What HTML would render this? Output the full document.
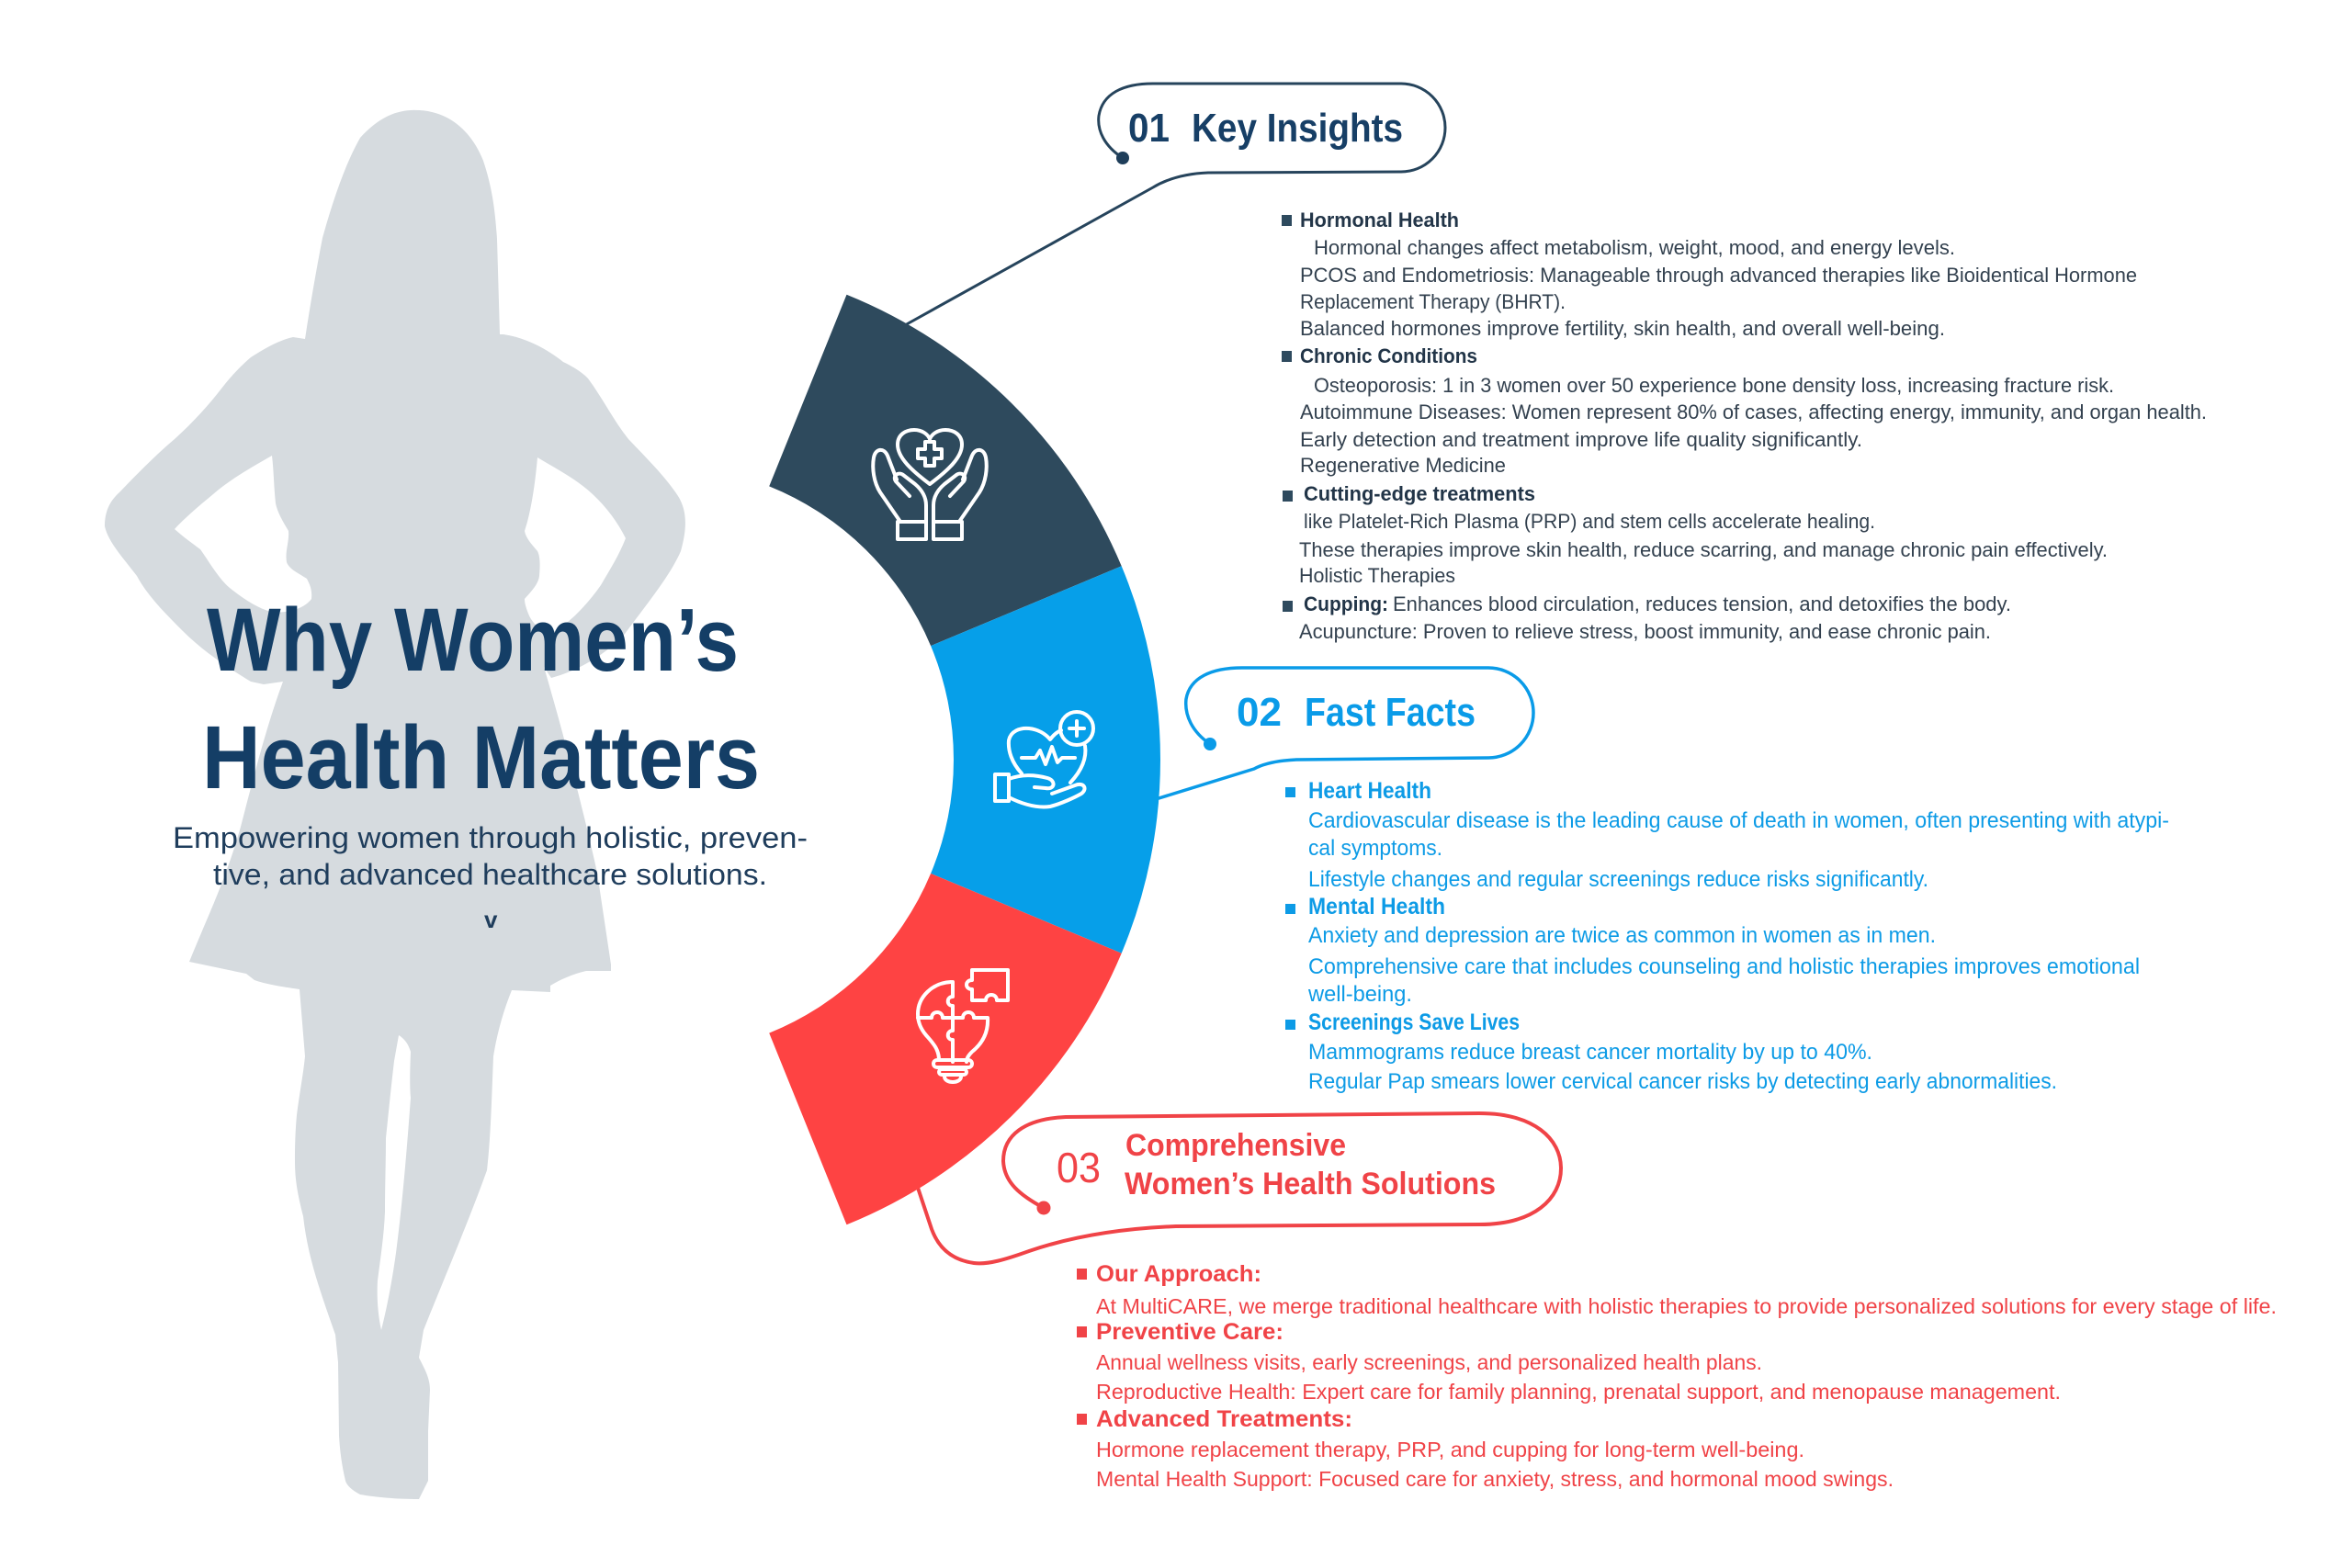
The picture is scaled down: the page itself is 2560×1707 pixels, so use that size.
<!DOCTYPE html>
<html>
<head>
<meta charset="utf-8">
<style>
  html,body{margin:0;padding:0;background:#fff;}
  svg{display:block;}
  text{font-family:"Liberation Sans",Arial,sans-serif;}
</style>
</head>
<body>
<svg width="2560" height="1707" viewBox="0 0 2560 1707" xmlns="http://www.w3.org/2000/svg">
  <rect width="2560" height="1707" fill="#ffffff"/>

  <!-- Silhouette -->
  <path fill="#d6dbdf" d="M447,120 C485,118 512,140 526,175 C536,205 539,230 541,260 L544,364 L548,364 C575,368 598,382 613,394 C625,400 632,404 640,412 C655,432 668,458 684,478 C705,500 725,520 738,540 C748,556 748,575 741,600 C730,625 710,650 680,690 C660,712 630,730 600,738 L592,726 C605,770 630,860 650,950 L665,1050 L665,1057 L638,1057 C625,1060 610,1066 599,1073 L599,1080 L557,1078 C548,1100 541,1125 537,1150 C535,1200 534,1240 530,1274 C510,1330 480,1400 461,1448 L456,1478 C462,1490 468,1500 468,1513 L466,1558 L466,1612 L456,1632 C430,1632 410,1630 392,1627 C382,1622 377,1616 376,1612 C372,1595 370,1580 369,1563 L368,1483 L365,1453 C350,1410 335,1370 330,1324 C324,1300 321,1285 321,1264 C321,1240 322,1225 323,1214 C326,1190 330,1170 332,1150 L326,1077 C305,1074 288,1071 277,1067 L268,1060 L206,1047 C225,1000 245,960 262,900 C275,850 290,790 308,742 L287,745 L273,742 C250,728 222,710 199,687 C180,668 160,648 149,627 C132,605 118,590 114,573 C114,556 120,545 130,536 C150,515 170,495 190,478 C210,460 228,440 241,423 C255,405 265,396 273,389 C290,378 305,370 319,367 L332,369 C338,330 344,295 351,259 C362,220 375,180 392,150 C410,130 428,121 447,120 Z"/>
  <!-- arm holes -->
  <path fill="#ffffff" d="M296,496 C275,508 250,522 232,538 C215,552 200,565 190,576 C200,585 210,592 218,598 C228,612 238,630 250,640 C265,652 280,662 295,666 C310,668 330,664 339,652 C340,642 337,636 334,630 C325,624 315,620 312,612 C310,600 315,590 314,578 C308,568 302,558 300,548 C298,530 298,512 296,496 Z"/>
  <path fill="#ffffff" d="M585,498 C605,510 628,522 645,538 C660,552 672,568 681,586 C674,604 664,620 654,637 C645,650 636,660 626,670 C615,680 605,688 596,690 C585,684 578,676 575,668 C572,660 571,656 571,652 C578,644 586,636 587,627 C588,615 588,606 585,600 C578,592 572,585 571,578 L574,568 C580,545 583,520 585,498 Z"/>
  <!-- leg gap -->
  <path fill="#ffffff" d="M434,1127 C439,1130 444,1135 447,1145 C446,1170 446,1185 447,1195 C443,1250 438,1310 431,1364 C426,1400 420,1428 415,1448 C411,1430 410,1410 411,1394 C414,1370 418,1345 419,1319 C419,1290 420,1265 420,1239 C423,1210 426,1180 429,1155 Z"/>

  <!-- Title -->
  <text x="225" y="730" font-size="97" font-weight="bold" fill="#143e66" textLength="579" lengthAdjust="spacingAndGlyphs">Why Women’s</text>
  <text x="220" y="858" font-size="97" font-weight="bold" fill="#143e66" textLength="607" lengthAdjust="spacingAndGlyphs">Health Matters</text>
  <text x="188" y="923" font-size="32" fill="#1f3d5c" textLength="691" lengthAdjust="spacingAndGlyphs">Empowering women through holistic, preven-</text>
  <text x="232" y="963" font-size="32" fill="#1f3d5c" textLength="603" lengthAdjust="spacingAndGlyphs">tive, and advanced healthcare solutions.</text>
  <text x="527" y="1010" font-size="26" font-weight="bold" fill="#1f3d5c">v</text>

  <!-- Connectors / callouts -->
  <g fill="none" stroke-linecap="round" stroke-linejoin="round">
    <path stroke="#26445c" stroke-width="3" d="M1222,172 C1202,159 1194,142 1196,126 C1200,102 1222,91 1255,91 L1525,91 A48,48 0 0 1 1525,187 L1315,188 C1290,189 1270,195 1255,204 L985,354"/>
    <path stroke="#0a9be8" stroke-width="3.5" d="M1317,810 C1298,797 1289,779 1291,761 C1295,738 1318,727 1352,727 L1620,727 A49,49 0 0 1 1620,825 L1411,827 C1390,828 1376,831 1365,837 L1258,870"/>
    <path stroke="#f04347" stroke-width="4" d="M1136,1315 C1110,1301 1093,1287 1092,1264 C1092,1236 1115,1218 1160,1216 L1610,1212 C1670,1212 1699,1240 1699,1272 C1699,1305 1670,1333 1610,1333 L1280,1335 C1205,1338 1155,1350 1120,1362 C1095,1371 1075,1377 1060,1375 C1038,1372 1022,1360 1014,1338 L999,1293"/>
  </g>
  <circle cx="1222" cy="172" r="7" fill="#1f3e5a"/>
  <circle cx="1317" cy="810" r="7" fill="#0a9be8"/>
  <circle cx="1136" cy="1315" r="7.5" fill="#f04347"/>

  <!-- Ring segments -->
  <path fill="#2e4a5d" d="M921.5,320.8 A546,546 0 0 1 1220.7,616.3 L1013.1,703.1 A321,321 0 0 0 837.2,529.4 Z"/>
  <path fill="#069fe9" d="M1220.7,616.3 A546,546 0 0 1 1220.7,1037.7 L1013.1,950.9 A321,321 0 0 0 1013.1,703.1 Z"/>
  <path fill="#fe4343" d="M1220.7,1037.7 A546,546 0 0 1 921.5,1333.2 L837.2,1124.6 A321,321 0 0 0 1013.1,950.9 Z"/>

  <!-- Icon 1: hands with heart -->
  <g fill="none" stroke="#ffffff" stroke-width="4" stroke-linejoin="round" stroke-linecap="round">
    <path d="M1012,527 C992,512 977,498 977,484 C977,473 986,468 995,468 C1004,468 1010,473 1012,478 C1014,473 1020,468 1029,468 C1038,468 1047,473 1047,484 C1047,498 1032,512 1012,527 Z"/>
    <path d="M1007,481 h10 v8 h8 v10 h-8 v8 h-10 v-8 h-8 v-10 h8 Z"/>
    <g>
      <rect x="977" y="568" width="31" height="19"/>
      <path d="M980,568 L958,536 C951,525 949,510 951,498 C953,488 962,487 966,496 L976,522"/>
      <path d="M1008,568 V550 C1008,540 1003,533 996,527 L983,517 C978,513 971,518 975,524 L990,540"/>
    </g>
    <g transform="translate(2024,0) scale(-1,1)">
      <rect x="977" y="568" width="31" height="19"/>
      <path d="M980,568 L958,536 C951,525 949,510 951,498 C953,488 962,487 966,496 L976,522"/>
      <path d="M1008,568 V550 C1008,540 1003,533 996,527 L983,517 C978,513 971,518 975,524 L990,540"/>
    </g>
  </g>

  <!-- Icon 2: heart in hand -->
  <g fill="none" stroke="#ffffff" stroke-width="4" stroke-linejoin="round" stroke-linecap="round">
    <circle cx="1172" cy="793" r="18"/>
    <path d="M1172,785 V801 M1164,793 H1180"/>
    <path d="M1112,842 C1101,830 1097,817 1098,806 C1100,796 1110,792 1120,793 C1130,794 1138,799 1143,805 C1146,801 1150,797 1155,795"/>
    <path d="M1181,812 C1183,825 1178,838 1165,852"/>
    <path d="M1112,825 H1127 L1132,817 L1138,832 L1145,813 L1151,830 L1156,825 H1170"/>
    <rect x="1083" y="843" width="15" height="29"/>
    <path d="M1098,848 C1112,843 1125,843 1140,847 C1150,850 1148,860 1138,858 L1126,857"/>
    <path d="M1098,868 C1112,875 1128,880 1143,878 C1155,875 1170,868 1177,864 C1184,859 1180,851 1170,855 L1145,864"/>
  </g>

  <!-- Icon 3: bulb puzzle -->
  <g fill="none" stroke="#ffffff" stroke-width="4" stroke-linejoin="round" stroke-linecap="round">
    <path d="M1022,1154 C1022,1142 1015,1135 1008,1127 C1002,1120 999,1112 999,1104 C999,1085 1015,1070 1035,1069"/>
    <path d="M1037,1069 V1085 C1030,1085 1030,1095 1037,1095 V1108 H1048 C1048,1100 1060,1100 1060,1108 H1075 C1076,1125 1068,1137 1058,1145 C1054,1149 1052,1152 1052,1156"/>
    <path d="M999,1108 H1014 C1014,1100 1026,1100 1026,1108 H1037 V1122 C1030,1122 1030,1132 1037,1132 V1156"/>
    <rect x="1016" y="1154" width="42" height="8" rx="4"/>
    <rect x="1022" y="1164" width="30" height="6" rx="3"/>
    <path d="M1028,1172 C1028,1180 1046,1180 1046,1172"/>
    <path d="M1062,1056 H1097 V1089 H1085 C1085,1081 1073,1081 1073,1089 H1058 V1077 C1050,1077 1050,1067 1058,1067 V1056 Z"/>
  </g>

  <!-- Callout titles -->
  <text x="1228" y="154" font-size="44" font-weight="bold" fill="#173f66" textLength="45" lengthAdjust="spacingAndGlyphs">01</text>
  <text x="1297" y="154" font-size="44" font-weight="bold" fill="#173f66" textLength="230" lengthAdjust="spacingAndGlyphs">Key Insights</text>
  <text x="1346" y="790" font-size="44" font-weight="bold" fill="#0a9be8" textLength="49" lengthAdjust="spacingAndGlyphs">02</text>
  <text x="1420" y="790" font-size="44" font-weight="bold" fill="#0a9be8" textLength="186" lengthAdjust="spacingAndGlyphs">Fast Facts</text>
  <text x="1150" y="1287" font-size="46" fill="#f04347" textLength="48" lengthAdjust="spacingAndGlyphs">03</text>
  <text x="1225" y="1258" font-size="34" font-weight="bold" fill="#f04347" textLength="240" lengthAdjust="spacingAndGlyphs">Comprehensive</text>
  <text x="1224" y="1300" font-size="34" font-weight="bold" fill="#f04347" textLength="404" lengthAdjust="spacingAndGlyphs">Women’s Health Solutions</text>

  <!-- Block 01 -->
  <g fill="#2e4a5e">
    <rect x="1395" y="234" width="11" height="12"/>
    <rect x="1395" y="382" width="11" height="12"/>
    <rect x="1396" y="534" width="11" height="12"/>
    <rect x="1396" y="654" width="11" height="12"/>
  </g>
  <g font-size="22" fill="#33414f">
    <text x="1415" y="247" font-weight="bold" fill="#223548" textLength="173" lengthAdjust="spacingAndGlyphs">Hormonal Health</text>
    <text x="1430" y="277" textLength="698" lengthAdjust="spacingAndGlyphs">Hormonal changes affect metabolism, weight, mood, and energy levels.</text>
    <text x="1415" y="307" textLength="911" lengthAdjust="spacingAndGlyphs">PCOS and Endometriosis: Manageable through advanced therapies like Bioidentical Hormone</text>
    <text x="1415" y="336" textLength="289" lengthAdjust="spacingAndGlyphs">Replacement Therapy (BHRT).</text>
    <text x="1415" y="365" textLength="702" lengthAdjust="spacingAndGlyphs">Balanced hormones improve fertility, skin health, and overall well-being.</text>
    <text x="1415" y="395" font-weight="bold" fill="#223548" textLength="193" lengthAdjust="spacingAndGlyphs">Chronic Conditions</text>
    <text x="1430" y="427" textLength="871" lengthAdjust="spacingAndGlyphs">Osteoporosis: 1 in 3 women over 50 experience bone density loss, increasing fracture risk.</text>
    <text x="1415" y="456" textLength="987" lengthAdjust="spacingAndGlyphs">Autoimmune Diseases: Women represent 80% of cases, affecting energy, immunity, and organ health.</text>
    <text x="1415" y="486" textLength="612" lengthAdjust="spacingAndGlyphs">Early detection and treatment improve life quality significantly.</text>
    <text x="1415" y="514" textLength="224" lengthAdjust="spacingAndGlyphs">Regenerative Medicine</text>
    <text x="1419" y="545" font-weight="bold" fill="#223548" textLength="252" lengthAdjust="spacingAndGlyphs">Cutting-edge treatments</text>
    <text x="1419" y="575" textLength="622" lengthAdjust="spacingAndGlyphs">like Platelet-Rich Plasma (PRP) and stem cells accelerate healing.</text>
    <text x="1414" y="606" textLength="880" lengthAdjust="spacingAndGlyphs">These therapies improve skin health, reduce scarring, and manage chronic pain effectively.</text>
    <text x="1414" y="634" textLength="170" lengthAdjust="spacingAndGlyphs">Holistic Therapies</text>
    <text x="1419" y="665" font-weight="bold" fill="#223548" textLength="92" lengthAdjust="spacingAndGlyphs">Cupping:</text>
    <text x="1516" y="665" textLength="673" lengthAdjust="spacingAndGlyphs">Enhances blood circulation, reduces tension, and detoxifies the body.</text>
    <text x="1414" y="695" textLength="753" lengthAdjust="spacingAndGlyphs">Acupuncture: Proven to relieve stress, boost immunity, and ease chronic pain.</text>
  </g>

  <!-- Block 02 -->
  <g fill="#0d9be6">
    <rect x="1399" y="857" width="11" height="11"/>
    <rect x="1399" y="984" width="11" height="11"/>
    <rect x="1399" y="1110" width="11" height="11"/>
  </g>
  <g font-size="24" fill="#0d9be6">
    <text x="1424" y="869" font-size="25" font-weight="bold" textLength="134" lengthAdjust="spacingAndGlyphs">Heart Health</text>
    <text x="1424" y="901" textLength="937" lengthAdjust="spacingAndGlyphs">Cardiovascular disease is the leading cause of death in women, often presenting with atypi-</text>
    <text x="1424" y="931" textLength="146" lengthAdjust="spacingAndGlyphs">cal symptoms.</text>
    <text x="1424" y="965" textLength="675" lengthAdjust="spacingAndGlyphs">Lifestyle changes and regular screenings reduce risks significantly.</text>
    <text x="1424" y="995" font-size="25" font-weight="bold" textLength="149" lengthAdjust="spacingAndGlyphs">Mental Health</text>
    <text x="1424" y="1026" textLength="683" lengthAdjust="spacingAndGlyphs">Anxiety and depression are twice as common in women as in men.</text>
    <text x="1424" y="1060" textLength="905" lengthAdjust="spacingAndGlyphs">Comprehensive care that includes counseling and holistic therapies improves emotional</text>
    <text x="1424" y="1090" textLength="113" lengthAdjust="spacingAndGlyphs">well-being.</text>
    <text x="1424" y="1121" font-size="25" font-weight="bold" textLength="230" lengthAdjust="spacingAndGlyphs">Screenings Save Lives</text>
    <text x="1424" y="1153" textLength="614" lengthAdjust="spacingAndGlyphs">Mammograms reduce breast cancer mortality by up to 40%.</text>
    <text x="1424" y="1185" textLength="815" lengthAdjust="spacingAndGlyphs">Regular Pap smears lower cervical cancer risks by detecting early abnormalities.</text>
  </g>

  <!-- Block 03 -->
  <g fill="#f04347">
    <rect x="1172" y="1381" width="11" height="12"/>
    <rect x="1172" y="1444" width="11" height="12"/>
    <rect x="1172" y="1539" width="11" height="12"/>
  </g>
  <g font-size="23" fill="#f04347">
    <text x="1193" y="1395" font-size="25" font-weight="bold" textLength="180" lengthAdjust="spacingAndGlyphs">Our Approach:</text>
    <text x="1193" y="1430" textLength="1285" lengthAdjust="spacingAndGlyphs">At MultiCARE, we merge traditional healthcare with holistic therapies to provide personalized solutions for every stage of life.</text>
    <text x="1193" y="1458" font-size="25" font-weight="bold" textLength="204" lengthAdjust="spacingAndGlyphs">Preventive Care:</text>
    <text x="1193" y="1491" textLength="725" lengthAdjust="spacingAndGlyphs">Annual wellness visits, early screenings, and personalized health plans.</text>
    <text x="1193" y="1523" textLength="1050" lengthAdjust="spacingAndGlyphs">Reproductive Health: Expert care for family planning, prenatal support, and menopause management.</text>
    <text x="1193" y="1553" font-size="25" font-weight="bold" textLength="279" lengthAdjust="spacingAndGlyphs">Advanced Treatments:</text>
    <text x="1193" y="1586" textLength="771" lengthAdjust="spacingAndGlyphs">Hormone replacement therapy, PRP, and cupping for long-term well-being.</text>
    <text x="1193" y="1618" textLength="868" lengthAdjust="spacingAndGlyphs">Mental Health Support: Focused care for anxiety, stress, and hormonal mood swings.</text>
  </g>
</svg>
</body>
</html>
